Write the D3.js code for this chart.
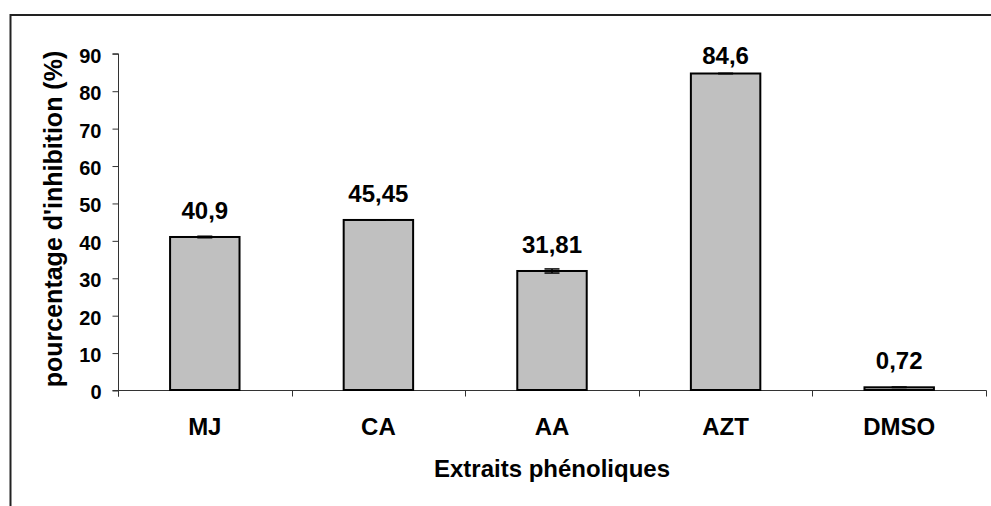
<!DOCTYPE html>
<html>
<head>
<meta charset="utf-8">
<script src="https://cdn.jsdelivr.net/npm/d3@7"></script>
<style>
  body { margin: 0; background: #fff; }
  svg { display: block; font-family: "Liberation Sans", Arial, sans-serif; font-weight: bold; }
</style>
</head>
<body>
<svg id="chart" width="991" height="506"></svg>
<script>
// chart values
const categories = ['MJ', 'CA', 'AA', 'AZT', 'DMSO'];
const values = [40.9, 45.45, 31.81, 84.6, 0.72];
const errors = [0.2, 0.05, 0.55, 0.05, 0.05];
const valueLabels = ['40,9', '45,45', '31,81', '84,6', '0,72'];
const yTicks = [0, 10, 20, 30, 40, 50, 60, 70, 80, 90];

const svg = d3.select('#chart');

const plot = { left: 118, right: 986, top: 53.3, bottom: 390 };

// outer frame (only top & left show in the crop)
svg.append('path')
  .attr('d', `M10.5,506 V15 H991`)
  .style('fill', 'none')
  .style('stroke', '#222')
  .style('stroke-width', 2);

const x = d3.scaleBand()
  .domain(categories)
  .range([plot.left, plot.right])
  .paddingInner(0.6)
  .paddingOuter(0.3);

const y = d3.scaleLinear()
  .domain([0, 90])
  .range([plot.bottom, plot.top]);

// y axis
const yAxis = svg.append('g')
  .attr('transform', `translate(${plot.left + 0.5}, 0.5)`)
  .call(d3.axisLeft(y).tickValues(yTicks).tickSize(6).tickPadding(11));
yAxis.select('.domain').attr('d', `M-6,${y(90)} H0 V${y(0) + 6}`).style('stroke', '#333');
yAxis.selectAll('.tick line').style('stroke', '#333');
yAxis.selectAll('.tick text')
  .attr('dy', '0.42em')
  .style('font-size', '20px')
  .style('font-weight', 'bold')
  .style('font-family', '"Liberation Sans", Arial, sans-serif')
  .style('fill', '#000');

// x axis: line plus ticks on category boundaries
const gap = x.step() - x.bandwidth();
const bounds = categories.map((c) => x(c) - gap / 2);
bounds.push(x(categories[categories.length - 1]) + x.bandwidth() + gap / 2);

const xAxis = svg.append('g').attr('transform', 'translate(0.5, 0.5)');
xAxis.append('line')
  .attr('x1', plot.left - 6)
  .attr('x2', plot.right)
  .attr('y1', y(0))
  .attr('y2', y(0))
  .style('stroke', '#333');
xAxis.selectAll('.xtick')
  .data(bounds)
  .enter()
  .append('line')
  .attr('class', 'xtick')
  .attr('x1', (d) => Math.round(d))
  .attr('x2', (d) => Math.round(d))
  .attr('y1', y(0))
  .attr('y2', y(0) + 6)
  .style('stroke', '#333');

svg.selectAll('.cat-label')
  .data(categories)
  .enter()
  .append('text')
  .attr('class', 'cat-label')
  .attr('x', (d) => x(d) + x.bandwidth() / 2)
  .attr('y', 435)
  .attr('text-anchor', 'middle')
  .style('font-size', '24px')
  .text((d) => d);

// bars
svg.selectAll('.bar')
  .data(values)
  .enter()
  .append('rect')
  .attr('class', 'bar')
  .attr('x', (d, i) => x(categories[i]))
  .attr('y', (d) => y(d))
  .attr('width', x.bandwidth())
  .attr('height', (d) => y(0) - y(d))
  .style('fill', '#C0C0C0')
  .style('stroke', '#000')
  .style('stroke-width', 2);

// error bars
const capW = 7.5;
const err = svg.selectAll('.err')
  .data(values)
  .enter()
  .append('g')
  .attr('class', 'err')
  .attr('transform', (d, i) => `translate(${x(categories[i]) + x.bandwidth() / 2}, 0)`);
err.append('line')
  .attr('y1', (d, i) => y(d - errors[i]))
  .attr('y2', (d, i) => y(d + errors[i]))
  .style('stroke', '#000')
  .style('stroke-width', 1.5);
err.append('line')
  .attr('x1', -capW).attr('x2', capW)
  .attr('y1', (d, i) => y(d + errors[i]))
  .attr('y2', (d, i) => y(d + errors[i]))
  .style('stroke', '#000')
  .style('stroke-width', 1.5);
err.append('line')
  .attr('x1', -capW).attr('x2', capW)
  .attr('y1', (d, i) => y(d - errors[i]))
  .attr('y2', (d, i) => y(d - errors[i]))
  .style('stroke', '#000')
  .style('stroke-width', 1.5);

// value labels, kept inside the plot area at the top
svg.selectAll('.val-label')
  .data(values)
  .enter()
  .append('text')
  .attr('class', 'val-label')
  .attr('x', (d, i) => x(categories[i]) + x.bandwidth() / 2)
  .attr('y', (d) => Math.max(y(d) - 18, 64))
  .attr('text-anchor', 'middle')
  .style('font-size', '24px')
  .text((d, i) => valueLabels[i]);

// axis titles
svg.append('text')
  .attr('transform', 'translate(62, 219) rotate(-90)')
  .attr('text-anchor', 'middle')
  .style('font-size', '25px')
  .text("pourcentage d'inhibition (%)");

svg.append('text')
  .attr('x', 552)
  .attr('y', 477)
  .attr('text-anchor', 'middle')
  .style('font-size', '24px')
  .text('Extraits phénoliques');
</script>
</body>
</html>
